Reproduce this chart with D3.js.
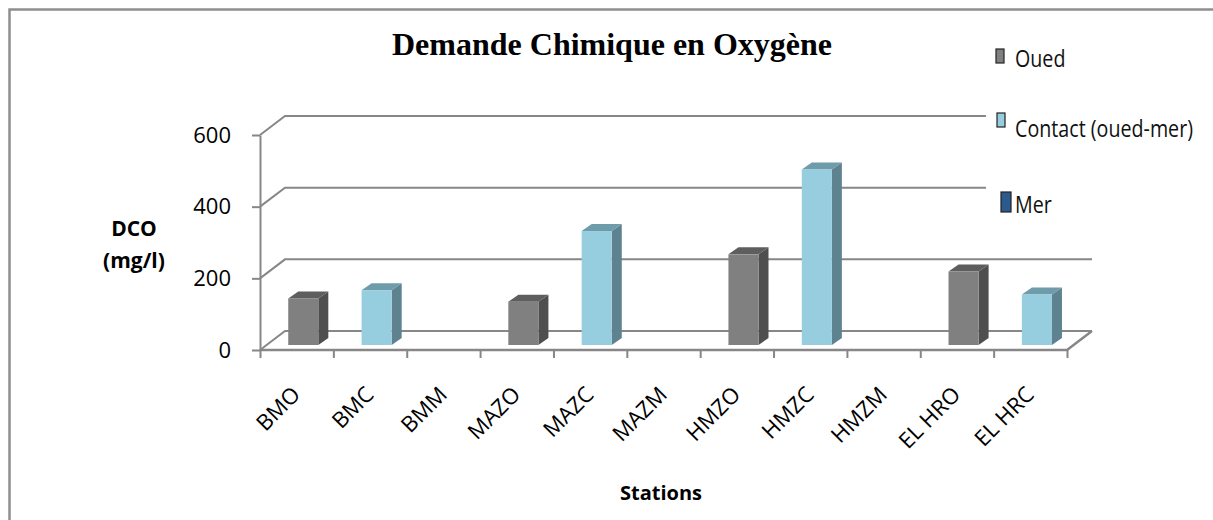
<!DOCTYPE html>
<html>
<head>
<meta charset="utf-8">
<script src="https://cdn.jsdelivr.net/npm/d3@7"></script>
<style>
  html, body { margin: 0; padding: 0; background: #fff; }
  svg { display: block; }
</style>
</head>
<body>
<svg id="chart" width="1213" height="520"></svg>
<script>
// Stations sampled (river mouth, contact zone, sea) and their COD values in mg/l
const categories = ["BMO", "BMC", "BMM", "MAZO", "MAZC", "MAZM", "HMZO", "HMZC", "HMZM", "EL HRO", "EL HRC"];
const oued    = [130, null, null, 121, null, null, 253, null, null, 205, null];
const contact = [null, 153, null, null, 318, null, null, 490, null, null, 141];
const mer     = [null, null, 0, null, null, 0, null, null, 0, null, null];
const seriesNames = ["Oued", "Contact (oued-mer)", "Mer"];
const yTicks = [0, 200, 400, 600];

const palette = {
  "Oued":               { front: "#808080", side: "#4f4f4f", top: "#5e5e5e" },
  "Contact (oued-mer)": { front: "#96cddf", side: "#5e8290", top: "#6e9cab" },
  "Mer":                { front: "#2d5a8c", side: "#1d3c5e", top: "#254b75" }
};
const seriesValues = [oued, contact, mer];

const svg = d3.select("#chart");
const gridColor = "#878787";

// oblique depth of the 3D box and of the columns inside it
const depth = { dx: 25, dy: -19 };
const barShift = { dx: 6.6, dy: -5 };
const barDepth = { dx: 10, dy: -7 };

const x = d3.scaleBand().domain(categories).range([260, 1067]);
const xEdge = d3.scaleLinear().domain([0, categories.length]).range([260, 1067]);
const y = d3.scaleLinear().domain([0, 600]).range([350, 135]);

// outer chart frame
svg.append("rect")
  .attr("x", 9.5).attr("y", 9.5)
  .attr("width", 1220).attr("height", 530)
  .attr("fill", "none").attr("stroke", "#8e8e8e").attr("stroke-width", 2.5);

// back wall gridlines and left wall diagonals
const grid = svg.append("g").attr("stroke", gridColor).attr("stroke-width", 2).attr("fill", "none");
yTicks.forEach(t => {
  const y0 = y(t);
  grid.append("path")
    .attr("d", `M${xEdge(0)},${y0}L${xEdge(0) + depth.dx},${y0 + depth.dy}L${xEdge(categories.length) + depth.dx},${y0 + depth.dy}`);
});
// floor: front edge and right edge
grid.append("path")
  .attr("d", `M${xEdge(0)},${y(0)}L${xEdge(categories.length)},${y(0)}L${xEdge(categories.length) + depth.dx},${y(0) + depth.dy}`)
  .attr("stroke-width", 2.5);

// category boundary ticks below the floor
const xAxisTicks = d3.axisBottom(xEdge)
  .tickValues(d3.range(categories.length + 1))
  .tickSize(8).tickSizeOuter(0).tickFormat("");
const gxt = svg.append("g").attr("transform", `translate(0,${y(0)})`).call(xAxisTicks);
gxt.select(".domain").remove();
gxt.selectAll(".tick line").attr("stroke", gridColor).attr("stroke-width", 2);

// vertical value axis
const yAxis = d3.axisLeft(y).tickValues(yTicks).tickSize(8).tickSizeOuter(0).tickPadding(21);
const gy = svg.append("g").attr("transform", `translate(${xEdge(0)},0)`).call(yAxis);
gy.select(".domain").attr("stroke", gridColor).attr("stroke-width", 2);
gy.selectAll(".tick line").attr("stroke", gridColor).attr("stroke-width", 2);
gy.selectAll(".tick text")
  .attr("font-family", "'Open Sans', sans-serif").attr("font-size", 22).attr("fill", "#000");

// columns
const bars = [];
seriesValues.forEach((vals, si) => {
  vals.forEach((v, i) => {
    if (v != null && v > 0) bars.push({ cat: categories[i], value: v, series: seriesNames[si] });
  });
});
const barW = x.bandwidth() * 0.41;
const gb = svg.append("g");
bars.forEach(d => {
  const c = palette[d.series];
  const x0 = x(d.cat) + x.bandwidth() / 2 - barW / 2 + barShift.dx;
  const x1 = x0 + barW;
  const yt = y(d.value) + barShift.dy;
  const yb = y(0) + barShift.dy;
  gb.append("path")
    .attr("d", `M${x1},${yt}L${x1 + barDepth.dx},${yt + barDepth.dy}L${x1 + barDepth.dx},${yb + barDepth.dy}L${x1},${yb}Z`)
    .attr("fill", c.side);
  gb.append("path")
    .attr("d", `M${x0},${yt}L${x0 + barDepth.dx},${yt + barDepth.dy}L${x1 + barDepth.dx},${yt + barDepth.dy}L${x1},${yt}Z`)
    .attr("fill", c.top);
  gb.append("rect")
    .attr("x", x0).attr("y", yt).attr("width", barW).attr("height", yb - yt)
    .attr("fill", c.front);
});

// rotated station labels
const xAxis = d3.axisBottom(x).tickSize(0).tickPadding(0);
const gx = svg.append("g").attr("transform", `translate(0,${y(0)})`).call(xAxis);
gx.select(".domain").remove();
gx.selectAll(".tick text")
  .attr("font-family", "'Open Sans', sans-serif").attr("font-size", 22).attr("fill", "#000")
  .attr("text-anchor", "end")
  .attr("dy", null).attr("y", null)
  .attr("transform", "translate(5,46) rotate(-45)");

// title
svg.append("text")
  .attr("x", 612).attr("y", 55)
  .attr("text-anchor", "middle")
  .attr("font-family", "'Liberation Serif', 'Times New Roman', serif")
  .attr("font-weight", "bold").attr("font-size", 32)
  .text("Demande Chimique en Oxygène");

// axis titles
const yTitle = svg.append("text")
  .attr("text-anchor", "middle")
  .attr("font-family", "'Open Sans', sans-serif").attr("font-weight", "bold").attr("font-size", 21);
yTitle.append("tspan").attr("x", 134).attr("y", 236).text("DCO");
yTitle.append("tspan").attr("x", 134).attr("y", 268).text("(mg/l)");

svg.append("text")
  .attr("x", 661).attr("y", 500)
  .attr("text-anchor", "middle")
  .attr("font-family", "'Open Sans', sans-serif").attr("font-weight", "bold").attr("font-size", 20)
  .text("Stations");

// legend (narrow lettering, squeezed horizontally)
const legend = svg.append("g");
legend.append("rect").attr("x", 986).attr("y", 25).attr("width", 224).attr("height", 200).attr("fill", "#fff");
const legendItems = [
  { name: seriesNames[0], mx: 996, my: 49, mw: 8, mh: 14, tx: 1015, ty: 67 },
  { name: seriesNames[1], mx: 997, my: 113, mw: 8, mh: 14, tx: 1015, ty: 137 },
  { name: seriesNames[2], mx: 1001, my: 192, mw: 10, mh: 20, tx: 1015, ty: 213 }
];
legendItems.forEach(it => {
  legend.append("rect")
    .attr("x", it.mx).attr("y", it.my).attr("width", it.mw).attr("height", it.mh)
    .attr("fill", palette[it.name].front).attr("stroke", "#222").attr("stroke-width", 1.2);
  legend.append("text")
    .attr("transform", `translate(${it.tx},${it.ty}) scale(0.82,1)`)
    .attr("font-family", "'Open Sans', sans-serif").attr("font-size", 24).attr("fill", "#111")
    .text(it.name);
});
</script>
</body>
</html>
